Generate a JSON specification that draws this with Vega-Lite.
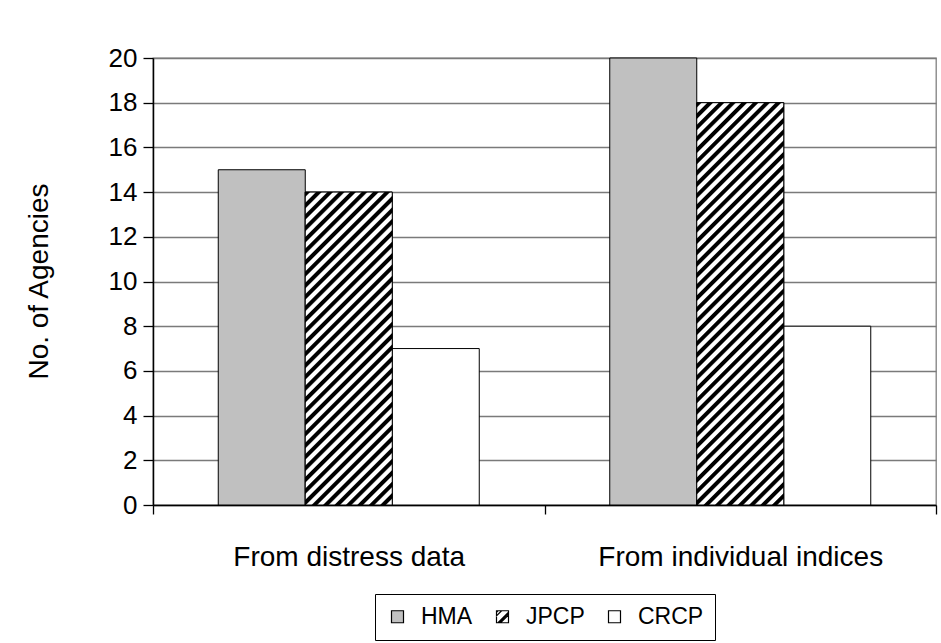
{
  "$schema": "https://vega.github.io/schema/vega-lite/v6.json",
  "width": 783,
  "height": 447,
  "autosize": {"type": "none"},
  "padding": {"left": 153, "top": 58, "right": 5, "bottom": 138},
  "background": "white",
  "config": {
    "font": "Liberation Sans",
    "view": {"stroke": "#808080", "strokeWidth": 1.3}
  },
  "data": {
    "values": [
      {"group": "From distress data", "series": "HMA", "agencies": 15},
      {"group": "From distress data", "series": "JPCP", "agencies": 14},
      {"group": "From distress data", "series": "CRCP", "agencies": 7},
      {"group": "From individual indices", "series": "HMA", "agencies": 20},
      {"group": "From individual indices", "series": "JPCP", "agencies": 18},
      {"group": "From individual indices", "series": "CRCP", "agencies": 8}
    ]
  },
  "encoding": {
    "x": {
      "field": "group",
      "type": "nominal",
      "sort": ["From distress data", "From individual indices"],
      "scale": {"paddingInner": 0, "paddingOuter": 0},
      "axis": {
        "title": null,
        "labelAngle": 0,
        "labelFontSize": 28,
        "labelColor": "#000000",
        "labelPadding": 29,
        "labelLimit": 500,
        "tickBand": "extent",
        "tickSize": 9,
        "tickColor": "#000000",
        "tickWidth": 1.3,
        "domainColor": "#000000",
        "domainWidth": 1.5,
        "grid": false
      }
    },
    "xOffset": {
      "field": "series",
      "type": "nominal",
      "sort": ["HMA", "JPCP", "CRCP"],
      "scale": {"paddingInner": 0, "paddingOuter": 0.75}
    },
    "y": {
      "field": "agencies",
      "type": "quantitative",
      "scale": {"domain": [0, 20], "nice": false},
      "axis": {
        "title": "No. of Agencies",
        "titleFontSize": 28,
        "titleFontWeight": "normal",
        "titleColor": "#000000",
        "titleAngle": -90,
        "titleAlign": "center",
        "titleBaseline": "bottom",
        "titleX": -100,
        "titleY": 223,
        "values": [0, 2, 4, 6, 8, 10, 12, 14, 16, 18, 20],
        "labelFontSize": 26,
        "labelColor": "#000000",
        "labelPadding": 6,
        "tickSize": 10,
        "tickColor": "#000000",
        "tickWidth": 1.3,
        "domainColor": "#000000",
        "domainWidth": 1.5,
        "grid": true,
        "gridColor": "#7a7a7a",
        "gridWidth": 1.4
      }
    }
  },
  "layer": [
    {
      "mark": {"type": "bar", "stroke": "#000000", "strokeWidth": 1},
      "encoding": {
        "fill": {
          "field": "series",
          "type": "nominal",
          "scale": {"domain": ["HMA", "JPCP", "CRCP"], "range": ["#c0c0c0", "#ffffff", "#ffffff"]},
          "legend": {
            "title": null,
            "orient": "none",
            "legendX": 222,
            "legendY": 536,
            "direction": "horizontal",
            "strokeColor": "#000000",
            "padding": 11,
            "symbolType": "square",
            "symbolSize": 144,
            "symbolStrokeColor": "#000000",
            "symbolStrokeWidth": 1,
            "symbolOpacity": 1,
            "labelFontSize": 23,
            "labelColor": "#000000",
            "labelOffset": 12,
            "columnPadding": 18,
            "encode": {
              "symbols": {
                "update": {
                  "shape": [
                    {"test": "datum.value === 'JPCP'", "value": "M-1,-1L1,-1L1,1L-1,1ZM-1,-1L-0.15,-1L-1,-0.15ZM-0.75,-1L-1,-0.75ZM1,-0.75L1,-0.3L-0.3,1L-0.75,1ZM1,-0.6L-0.6,1"},
                    {"value": "square"}
                  ],
                  "stroke": {"value": "#000000"},
                  "strokeWidth": {"value": 1.2}
                }
              }
            }
          }
        }
      }
    },
    {
      "transform": [{"filter": "datum.series === 'JPCP'"}],
      "mark": {"type": "bar", "stroke": "#000000", "strokeWidth": 1},
      "encoding": {
        "fill": {
          "condition": {
            "test": "datum.group === 'From distress data'",
            "value": {
              "gradient": "linear", "x1": 0, "y1": 0, "x2": 0.3298, "y2": 1.1863,
              "stops": [
                {"offset": 0, "color": "#000"}, {"offset": 0.0103, "color": "#000"}, {"offset": 0.0143, "color": "#fff"}, {"offset": 0.0251, "color": "#fff"},
                {"offset": 0.0286, "color": "#000"}, {"offset": 0.0389, "color": "#000"}, {"offset": 0.0429, "color": "#fff"}, {"offset": 0.0537, "color": "#fff"},
                {"offset": 0.0571, "color": "#000"}, {"offset": 0.0674, "color": "#000"}, {"offset": 0.0714, "color": "#fff"}, {"offset": 0.0822, "color": "#fff"},
                {"offset": 0.0857, "color": "#000"}, {"offset": 0.096, "color": "#000"}, {"offset": 0.1, "color": "#fff"}, {"offset": 0.1108, "color": "#fff"},
                {"offset": 0.1143, "color": "#000"}, {"offset": 0.1246, "color": "#000"}, {"offset": 0.1286, "color": "#fff"}, {"offset": 0.1394, "color": "#fff"},
                {"offset": 0.1429, "color": "#000"}, {"offset": 0.1532, "color": "#000"}, {"offset": 0.1572, "color": "#fff"}, {"offset": 0.168, "color": "#fff"},
                {"offset": 0.1714, "color": "#000"}, {"offset": 0.1817, "color": "#000"}, {"offset": 0.1857, "color": "#fff"}, {"offset": 0.1965, "color": "#fff"},
                {"offset": 0.2, "color": "#000"}, {"offset": 0.2103, "color": "#000"}, {"offset": 0.2143, "color": "#fff"}, {"offset": 0.2251, "color": "#fff"},
                {"offset": 0.2286, "color": "#000"}, {"offset": 0.2389, "color": "#000"}, {"offset": 0.2429, "color": "#fff"}, {"offset": 0.2537, "color": "#fff"},
                {"offset": 0.2571, "color": "#000"}, {"offset": 0.2674, "color": "#000"}, {"offset": 0.2714, "color": "#fff"}, {"offset": 0.2822, "color": "#fff"},
                {"offset": 0.2857, "color": "#000"}, {"offset": 0.296, "color": "#000"}, {"offset": 0.3, "color": "#fff"}, {"offset": 0.3108, "color": "#fff"},
                {"offset": 0.3143, "color": "#000"}, {"offset": 0.3246, "color": "#000"}, {"offset": 0.3286, "color": "#fff"}, {"offset": 0.3394, "color": "#fff"},
                {"offset": 0.3429, "color": "#000"}, {"offset": 0.3532, "color": "#000"}, {"offset": 0.3572, "color": "#fff"}, {"offset": 0.368, "color": "#fff"},
                {"offset": 0.3714, "color": "#000"}, {"offset": 0.3817, "color": "#000"}, {"offset": 0.3857, "color": "#fff"}, {"offset": 0.3965, "color": "#fff"},
                {"offset": 0.4, "color": "#000"}, {"offset": 0.4103, "color": "#000"}, {"offset": 0.4143, "color": "#fff"}, {"offset": 0.4251, "color": "#fff"},
                {"offset": 0.4286, "color": "#000"}, {"offset": 0.4389, "color": "#000"}, {"offset": 0.4429, "color": "#fff"}, {"offset": 0.4537, "color": "#fff"},
                {"offset": 0.4571, "color": "#000"}, {"offset": 0.4674, "color": "#000"}, {"offset": 0.4714, "color": "#fff"}, {"offset": 0.4822, "color": "#fff"},
                {"offset": 0.4857, "color": "#000"}, {"offset": 0.496, "color": "#000"}, {"offset": 0.5, "color": "#fff"}, {"offset": 0.5108, "color": "#fff"},
                {"offset": 0.5143, "color": "#000"}, {"offset": 0.5246, "color": "#000"}, {"offset": 0.5286, "color": "#fff"}, {"offset": 0.5394, "color": "#fff"},
                {"offset": 0.5429, "color": "#000"}, {"offset": 0.5532, "color": "#000"}, {"offset": 0.5572, "color": "#fff"}, {"offset": 0.568, "color": "#fff"},
                {"offset": 0.5714, "color": "#000"}, {"offset": 0.5817, "color": "#000"}, {"offset": 0.5857, "color": "#fff"}, {"offset": 0.5965, "color": "#fff"},
                {"offset": 0.6, "color": "#000"}, {"offset": 0.6103, "color": "#000"}, {"offset": 0.6143, "color": "#fff"}, {"offset": 0.6251, "color": "#fff"},
                {"offset": 0.6286, "color": "#000"}, {"offset": 0.6389, "color": "#000"}, {"offset": 0.6429, "color": "#fff"}, {"offset": 0.6537, "color": "#fff"},
                {"offset": 0.6571, "color": "#000"}, {"offset": 0.6674, "color": "#000"}, {"offset": 0.6714, "color": "#fff"}, {"offset": 0.6822, "color": "#fff"},
                {"offset": 0.6857, "color": "#000"}, {"offset": 0.696, "color": "#000"}, {"offset": 0.7, "color": "#fff"}, {"offset": 0.7108, "color": "#fff"},
                {"offset": 0.7143, "color": "#000"}, {"offset": 0.7246, "color": "#000"}, {"offset": 0.7286, "color": "#fff"}, {"offset": 0.7394, "color": "#fff"},
                {"offset": 0.7429, "color": "#000"}, {"offset": 0.7532, "color": "#000"}, {"offset": 0.7572, "color": "#fff"}, {"offset": 0.768, "color": "#fff"},
                {"offset": 0.7714, "color": "#000"}, {"offset": 0.7817, "color": "#000"}, {"offset": 0.7857, "color": "#fff"}, {"offset": 0.7965, "color": "#fff"},
                {"offset": 0.8, "color": "#000"}, {"offset": 0.8103, "color": "#000"}, {"offset": 0.8143, "color": "#fff"}, {"offset": 0.8251, "color": "#fff"},
                {"offset": 0.8286, "color": "#000"}, {"offset": 0.8389, "color": "#000"}, {"offset": 0.8429, "color": "#fff"}, {"offset": 0.8537, "color": "#fff"},
                {"offset": 0.8571, "color": "#000"}, {"offset": 0.8674, "color": "#000"}, {"offset": 0.8714, "color": "#fff"}, {"offset": 0.8822, "color": "#fff"},
                {"offset": 0.8857, "color": "#000"}, {"offset": 0.896, "color": "#000"}, {"offset": 0.9, "color": "#fff"}, {"offset": 0.9108, "color": "#fff"},
                {"offset": 0.9143, "color": "#000"}, {"offset": 0.9246, "color": "#000"}, {"offset": 0.9286, "color": "#fff"}, {"offset": 0.9394, "color": "#fff"},
                {"offset": 0.9429, "color": "#000"}, {"offset": 0.9532, "color": "#000"}, {"offset": 0.9572, "color": "#fff"}, {"offset": 0.968, "color": "#fff"},
                {"offset": 0.9714, "color": "#000"}, {"offset": 0.9817, "color": "#000"}, {"offset": 0.9857, "color": "#fff"}, {"offset": 0.9965, "color": "#fff"}
              ]
            }
          },
          "value": {
            "gradient": "linear", "x1": 0, "y1": 0, "x2": 0.2513, "y2": 1.162,
            "stops": [
              {"offset": 0, "color": "#000"}, {"offset": 0.0084, "color": "#000"}, {"offset": 0.0116, "color": "#fff"}, {"offset": 0.0205, "color": "#fff"},
              {"offset": 0.0233, "color": "#000"}, {"offset": 0.0317, "color": "#000"}, {"offset": 0.0349, "color": "#fff"}, {"offset": 0.0438, "color": "#fff"},
              {"offset": 0.0465, "color": "#000"}, {"offset": 0.0549, "color": "#000"}, {"offset": 0.0581, "color": "#fff"}, {"offset": 0.067, "color": "#fff"},
              {"offset": 0.0698, "color": "#000"}, {"offset": 0.0782, "color": "#000"}, {"offset": 0.0814, "color": "#fff"}, {"offset": 0.0903, "color": "#fff"},
              {"offset": 0.093, "color": "#000"}, {"offset": 0.1014, "color": "#000"}, {"offset": 0.1046, "color": "#fff"}, {"offset": 0.1135, "color": "#fff"},
              {"offset": 0.1163, "color": "#000"}, {"offset": 0.1247, "color": "#000"}, {"offset": 0.1279, "color": "#fff"}, {"offset": 0.1368, "color": "#fff"},
              {"offset": 0.1395, "color": "#000"}, {"offset": 0.1479, "color": "#000"}, {"offset": 0.1511, "color": "#fff"}, {"offset": 0.16, "color": "#fff"},
              {"offset": 0.1628, "color": "#000"}, {"offset": 0.1712, "color": "#000"}, {"offset": 0.1744, "color": "#fff"}, {"offset": 0.1833, "color": "#fff"},
              {"offset": 0.186, "color": "#000"}, {"offset": 0.1944, "color": "#000"}, {"offset": 0.1976, "color": "#fff"}, {"offset": 0.2065, "color": "#fff"},
              {"offset": 0.2093, "color": "#000"}, {"offset": 0.2177, "color": "#000"}, {"offset": 0.2209, "color": "#fff"}, {"offset": 0.2298, "color": "#fff"},
              {"offset": 0.2326, "color": "#000"}, {"offset": 0.241, "color": "#000"}, {"offset": 0.2442, "color": "#fff"}, {"offset": 0.2531, "color": "#fff"},
              {"offset": 0.2558, "color": "#000"}, {"offset": 0.2642, "color": "#000"}, {"offset": 0.2674, "color": "#fff"}, {"offset": 0.2763, "color": "#fff"},
              {"offset": 0.2791, "color": "#000"}, {"offset": 0.2875, "color": "#000"}, {"offset": 0.2907, "color": "#fff"}, {"offset": 0.2996, "color": "#fff"},
              {"offset": 0.3023, "color": "#000"}, {"offset": 0.3107, "color": "#000"}, {"offset": 0.3139, "color": "#fff"}, {"offset": 0.3228, "color": "#fff"},
              {"offset": 0.3256, "color": "#000"}, {"offset": 0.334, "color": "#000"}, {"offset": 0.3372, "color": "#fff"}, {"offset": 0.3461, "color": "#fff"},
              {"offset": 0.3488, "color": "#000"}, {"offset": 0.3572, "color": "#000"}, {"offset": 0.3604, "color": "#fff"}, {"offset": 0.3693, "color": "#fff"},
              {"offset": 0.3721, "color": "#000"}, {"offset": 0.3805, "color": "#000"}, {"offset": 0.3837, "color": "#fff"}, {"offset": 0.3926, "color": "#fff"},
              {"offset": 0.3953, "color": "#000"}, {"offset": 0.4037, "color": "#000"}, {"offset": 0.4069, "color": "#fff"}, {"offset": 0.4158, "color": "#fff"},
              {"offset": 0.4186, "color": "#000"}, {"offset": 0.427, "color": "#000"}, {"offset": 0.4302, "color": "#fff"}, {"offset": 0.4391, "color": "#fff"},
              {"offset": 0.4419, "color": "#000"}, {"offset": 0.4503, "color": "#000"}, {"offset": 0.4535, "color": "#fff"}, {"offset": 0.4624, "color": "#fff"},
              {"offset": 0.4651, "color": "#000"}, {"offset": 0.4735, "color": "#000"}, {"offset": 0.4767, "color": "#fff"}, {"offset": 0.4856, "color": "#fff"},
              {"offset": 0.4884, "color": "#000"}, {"offset": 0.4968, "color": "#000"}, {"offset": 0.5, "color": "#fff"}, {"offset": 0.5089, "color": "#fff"},
              {"offset": 0.5116, "color": "#000"}, {"offset": 0.52, "color": "#000"}, {"offset": 0.5232, "color": "#fff"}, {"offset": 0.5321, "color": "#fff"},
              {"offset": 0.5349, "color": "#000"}, {"offset": 0.5433, "color": "#000"}, {"offset": 0.5465, "color": "#fff"}, {"offset": 0.5554, "color": "#fff"},
              {"offset": 0.5581, "color": "#000"}, {"offset": 0.5665, "color": "#000"}, {"offset": 0.5697, "color": "#fff"}, {"offset": 0.5786, "color": "#fff"},
              {"offset": 0.5814, "color": "#000"}, {"offset": 0.5898, "color": "#000"}, {"offset": 0.593, "color": "#fff"}, {"offset": 0.6019, "color": "#fff"},
              {"offset": 0.6047, "color": "#000"}, {"offset": 0.6131, "color": "#000"}, {"offset": 0.6163, "color": "#fff"}, {"offset": 0.6252, "color": "#fff"},
              {"offset": 0.6279, "color": "#000"}, {"offset": 0.6363, "color": "#000"}, {"offset": 0.6395, "color": "#fff"}, {"offset": 0.6484, "color": "#fff"},
              {"offset": 0.6512, "color": "#000"}, {"offset": 0.6596, "color": "#000"}, {"offset": 0.6628, "color": "#fff"}, {"offset": 0.6717, "color": "#fff"},
              {"offset": 0.6744, "color": "#000"}, {"offset": 0.6828, "color": "#000"}, {"offset": 0.686, "color": "#fff"}, {"offset": 0.6949, "color": "#fff"},
              {"offset": 0.6977, "color": "#000"}, {"offset": 0.7061, "color": "#000"}, {"offset": 0.7093, "color": "#fff"}, {"offset": 0.7182, "color": "#fff"},
              {"offset": 0.7209, "color": "#000"}, {"offset": 0.7293, "color": "#000"}, {"offset": 0.7325, "color": "#fff"}, {"offset": 0.7414, "color": "#fff"},
              {"offset": 0.7442, "color": "#000"}, {"offset": 0.7526, "color": "#000"}, {"offset": 0.7558, "color": "#fff"}, {"offset": 0.7647, "color": "#fff"},
              {"offset": 0.7674, "color": "#000"}, {"offset": 0.7758, "color": "#000"}, {"offset": 0.779, "color": "#fff"}, {"offset": 0.7879, "color": "#fff"},
              {"offset": 0.7907, "color": "#000"}, {"offset": 0.7991, "color": "#000"}, {"offset": 0.8023, "color": "#fff"}, {"offset": 0.8112, "color": "#fff"},
              {"offset": 0.814, "color": "#000"}, {"offset": 0.8224, "color": "#000"}, {"offset": 0.8256, "color": "#fff"}, {"offset": 0.8345, "color": "#fff"},
              {"offset": 0.8372, "color": "#000"}, {"offset": 0.8456, "color": "#000"}, {"offset": 0.8488, "color": "#fff"}, {"offset": 0.8577, "color": "#fff"},
              {"offset": 0.8605, "color": "#000"}, {"offset": 0.8689, "color": "#000"}, {"offset": 0.8721, "color": "#fff"}, {"offset": 0.881, "color": "#fff"},
              {"offset": 0.8837, "color": "#000"}, {"offset": 0.8921, "color": "#000"}, {"offset": 0.8953, "color": "#fff"}, {"offset": 0.9042, "color": "#fff"},
              {"offset": 0.907, "color": "#000"}, {"offset": 0.9154, "color": "#000"}, {"offset": 0.9186, "color": "#fff"}, {"offset": 0.9275, "color": "#fff"},
              {"offset": 0.9302, "color": "#000"}, {"offset": 0.9386, "color": "#000"}, {"offset": 0.9418, "color": "#fff"}, {"offset": 0.9507, "color": "#fff"},
              {"offset": 0.9535, "color": "#000"}, {"offset": 0.9619, "color": "#000"}, {"offset": 0.9651, "color": "#fff"}, {"offset": 0.974, "color": "#fff"},
              {"offset": 0.9767, "color": "#000"}, {"offset": 0.9851, "color": "#000"}, {"offset": 0.9883, "color": "#fff"}, {"offset": 0.9972, "color": "#fff"}
            ]
          }
        }
      }
    }
  ]
}
